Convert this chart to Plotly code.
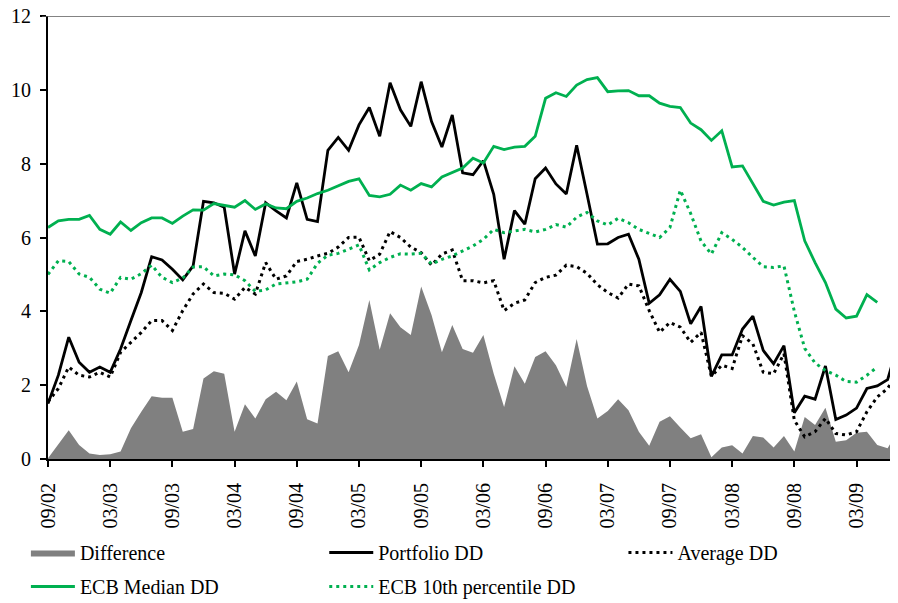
import pandas as pd
import plotly.graph_objects as go

months = list(pd.date_range("2002-09-01", periods=83, freq="MS").strftime("%m/%y"))

portfolio_dd = [1.50, 2.27, 3.30, 2.62, 2.35, 2.49, 2.35, 2.98, 3.75, 4.51,
                5.48, 5.39, 5.14, 4.85, 5.23, 6.98, 6.94, 6.82, 5.01, 6.18,
                5.50, 6.94, 6.72, 6.53, 7.48, 6.49, 6.43, 8.36, 8.71, 8.36,
                9.05, 9.52, 8.74, 10.19, 9.46, 9.01, 10.22, 9.14, 8.45, 9.32,
                7.75, 7.70, 8.08, 7.17, 5.41, 6.73, 6.36, 7.59, 7.88, 7.45,
                7.18, 8.50, 7.17, 5.82, 5.83, 6.00, 6.09, 5.41, 4.22, 4.45,
                4.87, 4.54, 3.66, 4.13, 2.24, 2.82, 2.82, 3.52, 3.87, 2.94,
                2.58, 3.07, 1.25, 1.70, 1.62, 2.52, 1.07, 1.19, 1.38, 1.91,
                1.98, 2.15, 3.12]

average_dd = [1.55, 1.91, 2.49, 2.27, 2.22, 2.35, 2.22, 2.89, 3.16, 3.43,
              3.75, 3.75, 3.48, 4.02, 4.47, 4.74, 4.51, 4.49, 4.33, 4.65,
              4.47, 5.32, 4.87, 4.96, 5.35, 5.41, 5.50, 5.57, 5.74, 6.00,
              6.01, 5.37, 5.55, 6.16, 6.00, 5.74, 5.59, 5.25, 5.55, 5.66,
              4.83, 4.83, 4.77, 4.83, 4.02, 4.22, 4.31, 4.78, 4.92, 4.98,
              5.25, 5.21, 5.03, 4.72, 4.51, 4.36, 4.74, 4.69, 4.02, 3.43,
              3.70, 3.57, 3.16, 3.43, 2.24, 2.54, 2.45, 3.34, 3.12, 2.35,
              2.31, 2.85, 1.05, 0.60, 0.74, 1.10, 0.69, 0.65, 0.74, 1.28,
              1.68, 1.91, 2.35]

difference = [0.02, 0.40, 0.78, 0.38, 0.15, 0.11, 0.13, 0.20, 0.83, 1.28,
              1.70, 1.66, 1.66, 0.74, 0.81, 2.18, 2.38, 2.31, 0.74, 1.48,
              1.10, 1.62, 1.82, 1.59, 2.10, 1.08, 0.96, 2.79, 2.92, 2.35,
              3.09, 4.31, 2.96, 3.95, 3.57, 3.36, 4.67, 3.90, 2.89, 3.63,
              2.98, 2.88, 3.36, 2.31, 1.41, 2.51, 2.04, 2.76, 2.92, 2.54,
              1.95, 3.25, 1.98, 1.10, 1.30, 1.62, 1.32, 0.74, 0.36, 1.01,
              1.16, 0.85, 0.56, 0.67, 0.05, 0.31, 0.37, 0.15, 0.62, 0.58,
              0.31, 0.62, 0.20, 1.14, 0.92, 1.39, 0.47, 0.51, 0.71, 0.74,
              0.38, 0.29, 0.78]

ecb_median_dd = [6.27, 6.45, 6.49, 6.49, 6.60, 6.22, 6.09, 6.42, 6.19, 6.40,
                 6.53, 6.53, 6.38, 6.58, 6.75, 6.74, 6.92, 6.88, 6.82, 7.00,
                 6.76, 6.91, 6.80, 6.78, 6.98, 7.07, 7.19, 7.28, 7.39, 7.52,
                 7.59, 7.14, 7.10, 7.17, 7.42, 7.28, 7.46, 7.37, 7.64, 7.75,
                 7.88, 8.15, 8.02, 8.47, 8.38, 8.45, 8.47, 8.74, 9.77, 9.92,
                 9.82, 10.13, 10.28, 10.33, 9.95, 9.97, 9.98, 9.84, 9.84, 9.64,
                 9.55, 9.52, 9.10, 8.92, 8.63, 8.89, 7.91, 7.94, 7.45, 6.98,
                 6.88, 6.96, 7.00, 5.91, 5.32, 4.78, 4.06, 3.82, 3.87, 4.45,
                 4.24]

ecb_p10_dd = [5.00, 5.37, 5.35, 5.01, 4.92, 4.60, 4.49, 4.92, 4.87, 5.02,
              5.25, 4.92, 4.78, 4.90, 5.20, 5.21, 4.96, 5.01, 4.99, 4.83,
              4.54, 4.58, 4.74, 4.76, 4.80, 4.87, 5.30, 5.52, 5.57, 5.68,
              5.80, 5.12, 5.32, 5.46, 5.56, 5.55, 5.57, 5.28, 5.41, 5.50,
              5.64, 5.77, 5.95, 6.22, 6.13, 6.18, 6.22, 6.15, 6.22, 6.35,
              6.28, 6.55, 6.68, 6.45, 6.34, 6.52, 6.40, 6.22, 6.10, 6.00,
              6.27, 7.28, 6.65, 5.90, 5.55, 6.13, 5.95, 5.73, 5.46, 5.21,
              5.19, 5.23, 4.00, 3.00, 2.60, 2.40, 2.27, 2.10, 2.08, 2.27,
              2.49]

x_idx = list(range(len(months)))
tick_vals = list(range(0, len(months), 6))
tick_text = [months[i] for i in tick_vals]

GREEN = "#00B050"
FONT = "Liberation Serif, Times New Roman, serif"

fig = go.Figure()
fig.add_trace(go.Scatter(x=x_idx, y=difference, name="Difference", mode="lines",
                         fill="tozeroy", fillcolor="#808080",
                         line=dict(width=0, color="#808080"),
                         legend="legend", legendgroup="g1"))
fig.add_trace(go.Scatter(x=x_idx, y=portfolio_dd, name="Portfolio DD", mode="lines",
                         line=dict(color="black", width=2.8),
                         legend="legend2", legendgroup="g2"))
fig.add_trace(go.Scatter(x=x_idx, y=average_dd, name="Average DD", mode="lines",
                         line=dict(color="black", width=3, dash="3px,4px"),
                         legend="legend3", legendgroup="g3"))
fig.add_trace(go.Scatter(x=x_idx[:len(ecb_median_dd)], y=ecb_median_dd,
                         name="ECB Median DD", mode="lines",
                         line=dict(color=GREEN, width=2.8),
                         legend="legend", legendgroup="g4"))
fig.add_trace(go.Scatter(x=x_idx[:len(ecb_p10_dd)], y=ecb_p10_dd,
                         name="ECB 10th percentile DD", mode="lines",
                         line=dict(color=GREEN, width=3, dash="3px,4px"),
                         legend="legend2", legendgroup="g5"))

fig.add_shape(type="line", xref="paper", yref="y", x0=-0.007, x1=1, y0=12, y1=12,
              line=dict(color="#5a5a5a", width=1.5))

leg_common = dict(orientation="v", yanchor="top", xanchor="left", y=-0.167,
                  itemwidth=44, tracegroupgap=5, bgcolor="rgba(0,0,0,0)",
                  font=dict(family=FONT, size=20, color="black"))

# The page body adds an 8px offset, so the figure is sized 890x595 and the
# margins are reduced accordingly to keep the plot area where the reference has it.
fig.update_layout(
    width=890, height=595,
    margin=dict(l=40, r=0, t=8, b=144, autoexpand=False),
    plot_bgcolor="white", paper_bgcolor="white",
    font=dict(family=FONT, size=20, color="black"),
    showlegend=True,
    legend=dict(x=-0.026, **leg_common),
    legend2=dict(x=0.325, **leg_common),
    legend3=dict(x=0.677, **leg_common),
)
fig.update_xaxes(range=[0, len(months) - 1], tickmode="array", tickvals=tick_vals,
                 ticktext=tick_text, tickangle=-90, ticks="outside", ticklen=6,
                 tickwidth=1.5, tickcolor="black", showline=True, linecolor="black",
                 linewidth=2, showgrid=False, zeroline=False, ticklabelstandoff=8,
                 automargin=False, ticklabeloverflow="allow",
                 tickfont=dict(family=FONT, size=20, color="black"))
fig.update_yaxes(range=[0, 12], dtick=2, ticks="outside", ticklen=6, tickwidth=1.5,
                 tickcolor="black", showline=True, linecolor="black", linewidth=2,
                 showgrid=False, zeroline=False, ticklabelstandoff=5,
                 automargin=False, ticklabeloverflow="allow",
                 tickfont=dict(family=FONT, size=20, color="black"))

fig.write_html("out.html")
